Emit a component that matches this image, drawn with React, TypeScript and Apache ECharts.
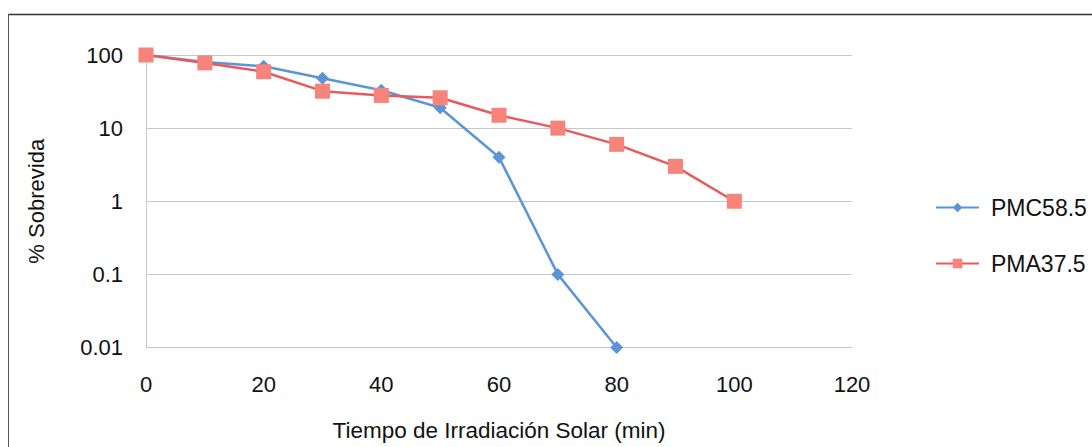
import React, { useEffect, useRef } from "react";
import * as echarts from "echarts";

const times = [0, 10, 20, 30, 40, 50, 60, 70, 80, 90, 100];
const pmcValues = [100, 80, 70, 48, 33, 19, 4, 0.1, 0.01];
const pmaValues = [100, 78, 59, 32, 28, 26, 15, 10, 6, 3, 1];
const seriesNames = ["PMC58.5", "PMA37.5"];
const xAxisName = "Tiempo de Irradiación Solar (min)";
const yAxisName = "% Sobrevida";

const FONT = "'Liberation Sans', Arial, sans-serif";

export default function App() {
  const ref = useRef<HTMLDivElement>(null);
  useEffect(() => {
    if (!ref.current) return;
    const chart = echarts.init(ref.current, undefined, { renderer: "svg" });
    const pmcData = pmcValues.map((v, i) => [times[i], v]);
    const pmaData = pmaValues.map((v, i) => [times[i], v]);
    chart.setOption({
      animation: false,
      backgroundColor: "#ffffff",
      textStyle: { fontFamily: FONT },
      grid: { left: 146, right: 240, top: 55, bottom: 99.5 },
      xAxis: {
        type: "value",
        min: 0,
        max: 120,
        interval: 20,
        name: xAxisName,
        nameLocation: "middle",
        nameGap: 71,
        nameTextStyle: { fontSize: 22.5, color: "#111", fontFamily: FONT },
        axisLine: { show: false },
        axisTick: { show: false },
        splitLine: { show: false },
        axisLabel: { fontSize: 22, color: "#111", margin: 26, fontFamily: FONT },
      },
      yAxis: {
        type: "log",
        logBase: 10,
        min: 0.01,
        max: 100,
        name: yAxisName,
        nameLocation: "middle",
        nameGap: 99,
        nameRotate: 90,
        nameTextStyle: { fontSize: 22, color: "#111", fontFamily: FONT },
        axisLine: { show: true, lineStyle: { color: "#c8c8c8", width: 1 } },
        axisTick: { show: false },
        splitLine: { show: true, lineStyle: { color: "#c8c8c8", width: 1 } },
        axisLabel: {
          fontSize: 22,
          color: "#111",
          margin: 23,
          fontFamily: FONT,
          formatter: (v: number) => {
            if (v >= 1) return String(Math.round(v));
            return String(parseFloat(v.toPrecision(3)));
          },
        },
      },
      legend: {
        orient: "vertical",
        left: 930,
        top: 191,
        itemWidth: 43,
        itemHeight: 12,
        itemGap: 33,
        textStyle: { fontSize: 23, color: "#111", fontFamily: FONT, padding: [0, 0, 0, 7] },
        data: seriesNames,
      },
      series: [
        {
          name: seriesNames[0],
          type: "line",
          data: pmcData,
          symbol: "diamond",
          symbolSize: 13,
          lineStyle: { color: "#5b95d8", width: 2.5 },
          itemStyle: { color: "#5b95d8" },
          z: 2,
        },
        {
          name: seriesNames[1],
          type: "line",
          data: pmaData,
          symbol: "rect",
          symbolSize: 15,
          lineStyle: { color: "#e85a5c", width: 2.5 },
          itemStyle: { color: "#f7847a" },
          z: 3,
        },
      ],
      graphic: [
        {
          type: "line",
          shape: { x1: 8, y1: 14.5, x2: 1092, y2: 14.5 },
          style: { stroke: "#333", lineWidth: 1.5 },
        },
        {
          type: "line",
          shape: { x1: 8.5, y1: 14, x2: 8.5, y2: 447 },
          style: { stroke: "#555", lineWidth: 1 },
        },
      ],
    });
    return () => chart.dispose();
  }, []);
  return (
    <div
      ref={ref}
      style={{ position: "fixed", left: 0, top: 0, width: 1092, height: 447 }}
    />
  );
}
